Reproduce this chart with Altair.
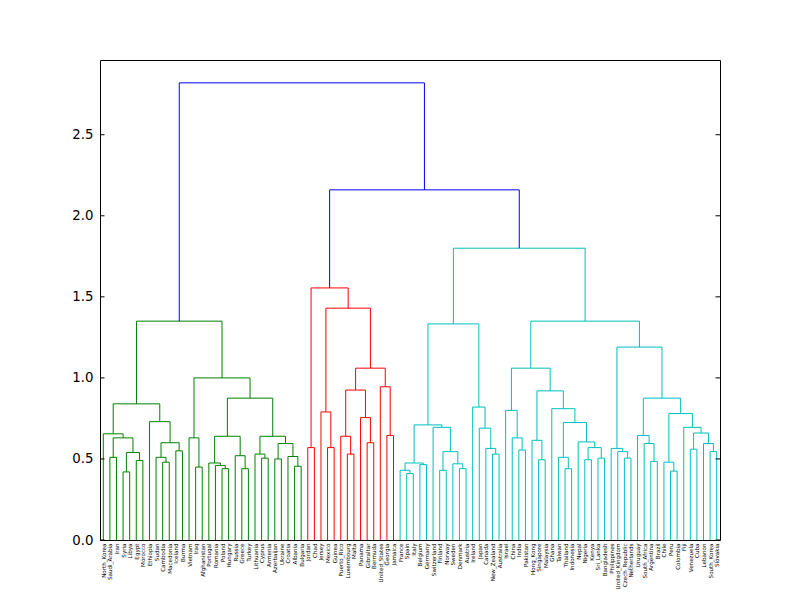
import altair as alt
import pandas as pd

# ---- dendrogram data: [left, right, merge_height]; strings are leaves ----
green_a = [
    ["North_Korea",
     [["Saudi_Arabia", "Iran", 0.51],
      [["Syria", "Libya", 0.42], ["Egypt", "Morocco", 0.49], 0.54], 0.63],
     0.655],
    ["Ethiopia",
     [["Sudan", ["Cambodia", "Macedonia", 0.48], 0.51],
      ["Iceland", "Burma", 0.55], 0.60],
     0.73],
    0.84]

green_b = [
    ["Vietnam", ["Iraq", "Afghanistan", 0.45], 0.63],
    [[["Portugal", ["Romania", ["Poland", "Hungary", 0.44], 0.46], 0.475],
      ["Russia", ["Greece", "Turkey", 0.44], 0.52], 0.64],
     [["Lithuania", ["Cyprus", "Armenia", 0.505], 0.53],
      [["Azerbaijan", "Ukraine", 0.50],
       ["Croatia", ["Albania", "Bulgaria", 0.455], 0.515], 0.595], 0.64],
     0.875],
    1.0]

green_tree = [green_a, green_b, 1.35]

red_tree = [
    ["Jordan", "Chad", 0.57],
    [["Jersey", ["Mexico", "Guinea", 0.57], 0.79],
     [[["Puerto_Rico", ["Luxembourg", "Malta", 0.53], 0.64],
       ["Panama", ["Gibraltar", "Bermuda", 0.60], 0.755], 0.925],
      ["United_States", ["Georgia", "Jamaica", 0.645], 0.945], 1.06],
     1.43],
    1.555]

cyan_1 = [
    [[["France", ["Spain", "Italy", 0.41], 0.43],
      ["Belgium", "Germany", 0.465], 0.475],
     ["Switzerland",
      [["Finland", "Norway", 0.43],
       ["Sweden", ["Denmark", "Austria", 0.44], 0.47], 0.545], 0.695],
     0.71],
    ["Ireland", ["Japan", ["Canada", ["New_Zealand", "Australia", 0.53], 0.565], 0.69], 0.82],
    1.333]

cyan_2a = [
    ["Israel", ["China", ["India", "Pakistan", 0.555], 0.63], 0.80],
    [["Hong_Kong", ["Singapore", "Malaysia", 0.495], 0.615],
     ["Ghana",
      [["Taiwan", ["Thailand", "Indonesia", 0.44], 0.51],
       ["Nepal", [["Nigeria", "Kenya", 0.495], ["Sri_Lanka", "Bangladesh", 0.505], 0.57], 0.605],
       0.725],
      0.81],
     0.92],
    1.06]

cyan_2b = [
    ["Philippines", ["United_Kingdom", ["Czech_Republic", "Netherlands", 0.505], 0.545], 0.565],
    [["Uruguay", ["South_Africa", ["Argentina", "Brazil", 0.485], 0.595], 0.645],
     [["Chile", ["Peru", "Colombia", 0.425], 0.48],
      ["Fiji", [["Venezuela", "Cuba", 0.56],
                ["Lebanon", ["South_Korea", "Slovakia", 0.545], 0.595], 0.66], 0.695],
      0.78],
     0.875],
    1.19]

cyan_tree = [cyan_1, [cyan_2a, cyan_2b, 1.35], 1.80]

red_cyan_height = 2.16
top_height = 2.82

group_names = ["green", "red", "cyan", "above"]
group_colors = ["#008000", "#ff0000", "#00bfbf", "#0000ff"]
y_ticks = [0.0, 0.5, 1.0, 1.5, 2.0, 2.5]

# ---- layout (scipy-style: leaf i at 10*i + 5) ----
segments = []
leaf_order = []


def add_link(xl, hl, xr, hr, h, grp):
    segments.append(dict(x=xl, x2=xl, y=hl, y2=h, grp=grp))
    segments.append(dict(x=xl, x2=xr, y=h, y2=h, grp=grp))
    segments.append(dict(x=xr, x2=xr, y=hr, y2=h, grp=grp))


def layout(node, grp):
    if isinstance(node, str):
        x = 10 * len(leaf_order) + 5
        leaf_order.append(node)
        return x, 0.0
    left, right, h = node
    xl, hl = layout(left, grp)
    xr, hr = layout(right, grp)
    add_link(xl, hl, xr, hr, h, grp)
    return (xl + xr) / 2, h


gx, gh = layout(green_tree, "green")
rx, rh = layout(red_tree, "red")
cx, ch = layout(cyan_tree, "cyan")
add_link(rx, rh, cx, ch, red_cyan_height, "above")
add_link(gx, gh, (rx + cx) / 2, red_cyan_height, top_height, "above")

n = len(leaf_order)
df = pd.DataFrame(segments)
leaf_pos = [10 * i + 5 for i in range(n)]
label_expr = "[" + ",".join("'%s'" % s for s in leaf_order) + "][round((datum.value-5)/10)]"

ymax = top_height * 1.05
xscale = alt.Scale(domain=[0, 10 * n], nice=False, zero=False)
yscale = alt.Scale(domain=[0, ymax], nice=False, zero=True)
y_axis = alt.Axis(values=y_ticks, format=".1f", labelFontSize=13.3,
                  labelPadding=7, ticks=False, domain=False, grid=False,
                  labelColor="black", labelFont="DejaVu Sans")

links = alt.Chart(df).mark_rule(strokeWidth=1).encode(
    x=alt.X("x:Q", scale=xscale, title=None,
            axis=alt.Axis(values=leaf_pos, labelExpr=label_expr, labelAngle=270,
                          labelAlign="right", labelBaseline="middle", labelFontSize=5.6,
                          labelPadding=3, ticks=False, domain=False, grid=False,
                          labelOverlap=False, labelColor="black", labelFont="DejaVu Sans")),
    x2="x2:Q",
    y=alt.Y("y:Q", scale=yscale, title=None, axis=y_axis),
    y2="y2:Q",
    color=alt.Color("grp:N", scale=alt.Scale(domain=group_names, range=group_colors), legend=None),
)

tick_df = pd.DataFrame({"v": y_ticks})
left_ticks = alt.Chart(tick_df).mark_rule(color="black", strokeWidth=1).encode(
    y=alt.Y("v:Q", scale=yscale, title=None, axis=y_axis), x=alt.value(0), x2=alt.value(4.5))
right_ticks = alt.Chart(tick_df).mark_rule(color="black", strokeWidth=1).encode(
    y=alt.Y("v:Q", scale=yscale, title=None, axis=y_axis), x=alt.value(615.5), x2=alt.value(620))

chart = alt.layer(links, left_ticks, right_ticks).properties(
    width=620, height=480,
    padding={"left": 100, "top": 60, "right": 80, "bottom": 60},
    autosize=alt.AutoSizeParams(type="none"),
    background="white",
).configure_view(stroke="black", strokeWidth=1)

chart.save("out.html", embed_options={"renderer": "svg", "actions": False})
